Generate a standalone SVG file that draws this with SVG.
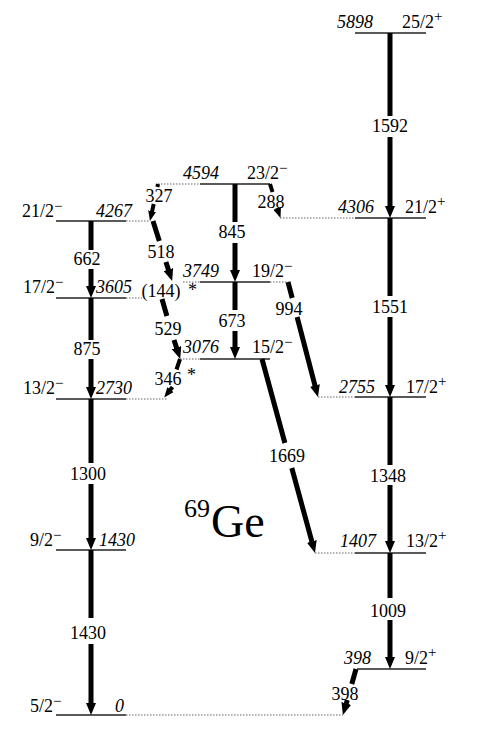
<svg xmlns="http://www.w3.org/2000/svg" width="486" height="732" viewBox="0 0 486 732">
<style>
text{font-family:'Liberation Serif','Times New Roman',Times,serif;font-size:18px;fill:#000}
.e{font-style:italic}
.m{text-anchor:middle}
.lv{stroke:#222;stroke-width:1.6;fill:none}
.dt{stroke:#666;stroke-width:1.2;stroke-dasharray:1.5 1.5;fill:none}
.tr{stroke:#000;stroke-width:5;fill:none;marker-end:url(#ah)}
.ts{stroke:#000;stroke-width:4;fill:none;marker-end:url(#ahs)}
.sup{font-size:15px}
.big{font-size:46px}
.iso{font-size:26px}
</style>
<defs>
<marker id="ah" viewBox="0 0 12 10" refX="1" refY="5" markerWidth="12" markerHeight="10" markerUnits="userSpaceOnUse" orient="auto"><path d="M0,0 L12,5 L0,10 z" fill="#000"/></marker>
<marker id="ahs" viewBox="0 0 10 8" refX="1" refY="4" markerWidth="10" markerHeight="8" markerUnits="userSpaceOnUse" orient="auto"><path d="M0,0 L10,4 L0,8 z" fill="#000"/></marker>
</defs>
<rect width="486" height="732" fill="#fff"/>

<g id="lv5898"><path class="lv" d="M355,33 H426"/><text class="e" x="337" y="28">5898</text><text x="402" y="28">25/2<tspan class="sup" dy="-7">+</tspan></text></g>
<g id="lv4594"><path class="lv" d="M200,184 H270"/><path class="dt" d="M158,184 H200"/><text class="e" x="183" y="179">4594</text><text x="247" y="179">23/2<tspan class="sup" dy="-6">−</tspan></text></g>
<g id="lv4306"><path class="lv" d="M355,218 H426"/><path class="dt" d="M280,218 H355"/><text class="e" x="338" y="213">4306</text><text x="405" y="213">21/2<tspan class="sup" dy="-7">+</tspan></text></g>
<g id="lv4267"><path class="lv" d="M56,221 H126"/><path class="dt" d="M126,221 H150"/><text class="e" x="96" y="217">4267</text><text x="22" y="217">21/2<tspan class="sup" dy="-6">−</tspan></text></g>
<g id="lv3749"><path class="lv" d="M200,282 H270"/><path class="dt" d="M183,282 H200 M270,282 H288"/><text class="e" x="183" y="277">3749</text><text x="252" y="277">19/2<tspan class="sup" dy="-6">−</tspan></text></g>
<g id="lv3605"><path class="lv" d="M56,298 H126"/><path class="dt" d="M126,298 H142"/><text class="e" x="96" y="293">3605</text><text x="23" y="293">17/2<tspan class="sup" dy="-6">−</tspan></text></g>
<g id="lv3076"><path class="lv" d="M200,359 H270"/><path class="dt" d="M180,359 H200"/><text class="e" x="183" y="353">3076</text><text x="252" y="353">15/2<tspan class="sup" dy="-6">−</tspan></text></g>
<g id="lv2755"><path class="lv" d="M355,397 H426"/><path class="dt" d="M318,397 H355"/><text class="e" x="339" y="393">2755</text><text x="406" y="393">17/2<tspan class="sup" dy="-7">+</tspan></text></g>
<g id="lv2730"><path class="lv" d="M56,399 H126"/><path class="dt" d="M126,399 H167"/><text class="e" x="96" y="394">2730</text><text x="23" y="394">13/2<tspan class="sup" dy="-6">−</tspan></text></g>
<g id="lv1430"><path class="lv" d="M56,550 H126"/><text class="e" x="99" y="546">1430</text><text x="30" y="546">9/2<tspan class="sup" dy="-6">−</tspan></text></g>
<g id="lv1407"><path class="lv" d="M355,553 H426"/><path class="dt" d="M315,553 H355"/><text class="e" x="340" y="547">1407</text><text x="406" y="547">13/2<tspan class="sup" dy="-7">+</tspan></text></g>
<g id="lv398"><path class="lv" d="M357,669 H426"/><text class="e" x="344" y="664">398</text><text x="405" y="664">9/2<tspan class="sup" dy="-7">+</tspan></text></g>
<g id="lv0"><path class="lv" d="M56,715 H126"/><path class="dt" d="M126,715 H343"/><text class="e" x="115" y="712">0</text><text x="30" y="712">5/2<tspan class="sup" dy="-6">−</tspan></text></g>

<g id="connectors">
<path class="tr" d="M390,33 V116 M390,137 V207"/>
<path class="tr" d="M390,218 V296 M390,317 V386"/>
<path class="tr" d="M390,397 V465 M390,485 V542"/>
<path class="tr" d="M390,553 V598 M390,620 V658"/>
<path class="tr" d="M91,221 V250 M91,269 V287"/>
<path class="tr" d="M91,298 V340 M91,359 V388"/>
<path class="tr" d="M91,399 V463 M91,484 V539"/>
<path class="tr" d="M91,550 V618 M91,644 V704"/>
<path class="tr" d="M235,184 V222 M235,243 V271"/>
<path class="tr" d="M235,282 V310 M235,331 V348"/>
<path class="tr" stroke-width="4.5" d="M288,282 L292.2,298 M297.1,317 L315.2,386.4"/>
<path class="tr" stroke-width="4.5" d="M262,359 L284.9,443 M291.8,468 L312.1,542.4"/>
<path class="tr" d="M153,221 L159.3,241 M165.9,262 L168.7,270.5"/>
<path class="tr" d="M162,299 L166.9,316 M174,340 L176.8,348.5"/>
<path class="ts" d="M158,184 L157.4,187 M153.7,204 L151.9,212.2"/>
<path class="ts" d="M180,359 L176.5,369.5 M172.5,387 L169.8,390.4"/>
<path class="ts" stroke-width="3.5" d="M270,184 L272.5,192 M277,208 L277.5,209.4"/>
<path class="tr" d="M356,669 L351.8,684 M347.3,700 L346,704.4"/>
<g id="tlabels">
<text class="m" x="390" y="132">1592</text>
<text class="m" x="390" y="313">1551</text>
<text class="m" x="388" y="482">1348</text>
<text class="m" x="388" y="617">1009</text>
<text class="m" x="87" y="265">662</text>
<text class="m" x="87" y="355">875</text>
<text class="m" x="88" y="480">1300</text>
<text class="m" x="88" y="639">1430</text>
<text class="m" x="232" y="238">845</text>
<text class="m" x="232" y="327">673</text>
<text class="m" x="289" y="315">994</text>
<text class="m" x="287" y="462">1669</text>
<text class="m" x="159" y="202">327</text>
<text class="m" x="161" y="258">518</text>
<text class="m" x="161" y="297">(144)</text>
<text x="188" y="296">*</text>
<text class="m" x="168" y="385">346</text>
<text class="m" x="168" y="335">529</text>
<text x="187" y="381">*</text>
<text class="m" x="271" y="208">288</text>
<text class="m" x="345" y="700">398</text>
</g>
</g>
<g id="label"><text class="iso" x="184" y="517">69</text><text class="big" x="211" y="537">Ge</text></g>
</svg>
